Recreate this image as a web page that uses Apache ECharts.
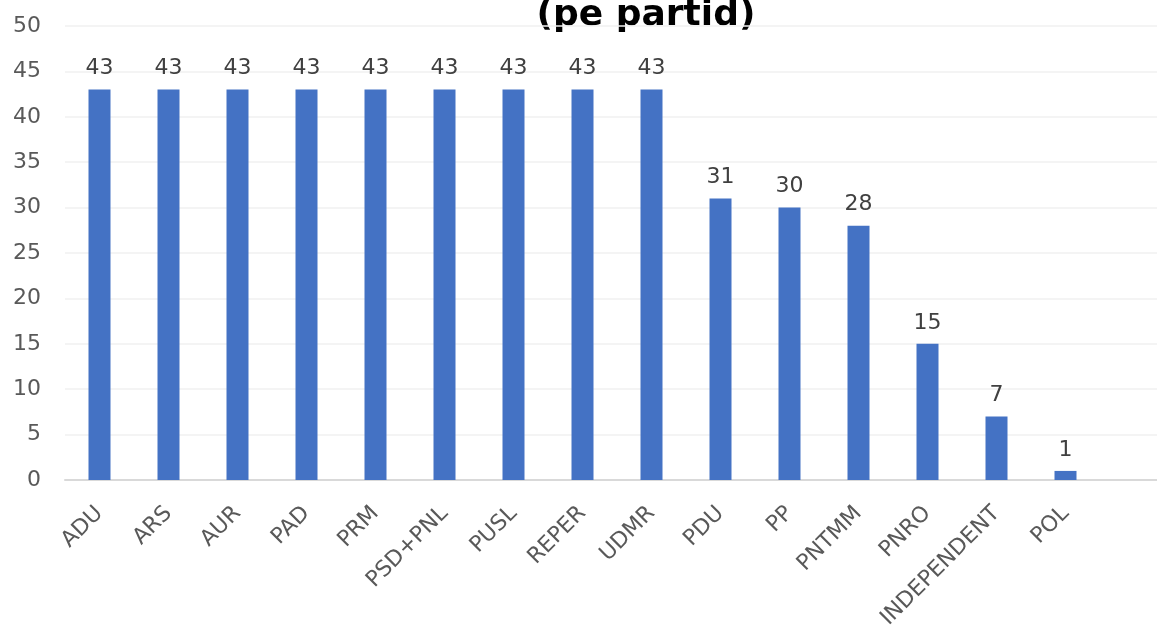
<!DOCTYPE html>
<html><head><meta charset="utf-8">
<script src="https://cdn.jsdelivr.net/npm/echarts@6/dist/echarts.min.js"></script>
<style>html,body{margin:0;padding:0;background:#fff;overflow:hidden;width:1157px;height:632px}#c{width:1169px;height:632px}</style>
</head><body><div id="c"></div>
<script>
const categories = ['ADU','ARS','AUR','PAD','PRM','PSD+PNL','PUSL','REPER','UDMR','PDU','PP','PNTMM','PNRO','INDEPENDENT','POL'];
const values = [43,43,43,43,43,43,43,43,43,31,30,28,15,7,1];
const titleText = '(pe partid)';

const chart = echarts.init(document.getElementById('c'));
const font = '"DejaVu Sans", Verdana, sans-serif';
chart.setOption({
  animation: false,
  graphic: [{
    type: 'text', x: 646, y: 16, silent: true,
    style: { text: titleText, font: 'bold 36px "DejaVu Sans"', fill: '#000', textAlign: 'center', textVerticalAlign: 'middle' }
  }],
  grid: { left: 65, right: 0, top: 26, bottom: 152, containLabel: false },
  xAxis: {
    type: 'category', data: categories, max: 15,
    axisLine: { lineStyle: { color: '#d9d9d9', width: 2 } },
    axisTick: { show: false },
    axisLabel: { rotate: 45, interval: 0, fontFamily: font, fontSize: 22, color: '#595959', margin: 30 }
  },
  yAxis: {
    type: 'value', min: 0, max: 50, interval: 5,
    axisLine: { show: false }, axisTick: { show: false },
    splitLine: { lineStyle: { color: '#f0f0f0', width: 1.5 } },
    axisLabel: { fontFamily: font, fontSize: 22, color: '#595959', margin: 24 }
  },
  series: [{
    type: 'bar', data: values, barWidth: 22,
    itemStyle: { color: '#4472C4' },
    label: { show: true, position: 'top', distance: 10, fontFamily: font, fontSize: 22, color: '#404040' }
  }]
});
</script></body></html>
